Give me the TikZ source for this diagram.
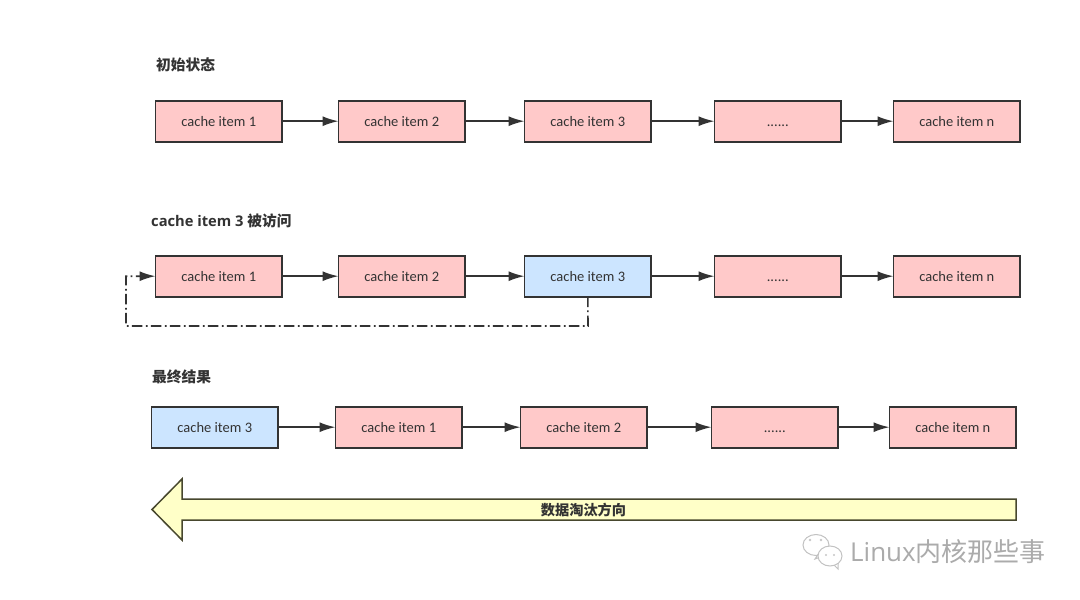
\documentclass[tikz,border=0pt]{standalone}
\usepackage{fontspec}
\setmainfont{Carlito}
\newfontfamily\cjk{Noto Sans CJK SC}
\newfontfamily\headfont{Open Sans}
\usetikzlibrary{arrows.meta}
\definecolor{pinkfill}{HTML}{FFC9C9}
\definecolor{bluefill}{HTML}{CCE5FF}
\definecolor{yellowfill}{HTML}{FFFFC8}
\definecolor{ink}{HTML}{333333}
\tikzset{
  x=1pt,y=-1pt,
  itembox/.style={draw=ink,line width=1.7pt,outer sep=0pt,minimum width=126.6pt,minimum height=41pt,inner sep=0pt,anchor=north west,font=\fontsize{14.5}{14.5}\selectfont,text=ink,text height=11pt,text depth=0pt},
  pinkbox/.style={itembox,fill=pinkfill},
  bluebox/.style={itembox,fill=bluefill},
  link/.style={draw=ink,line width=1.6pt,-{Latex[length=16pt,width=10pt]}},
  heading/.style={anchor=west,inner sep=0pt,text=ink,font=\headfont\bfseries\fontsize{14.7}{15}\selectfont},
  back/.style={link,dash pattern=on 10.5pt off 3.2pt on 1.8pt off 3.5pt},
}
\begin{document}
\begin{tikzpicture}
\useasboundingbox (0,0) rectangle (1080,600);
\fill[white] (0,0) rectangle (1080,600);

\node[heading] (h1) at (156,64.5) {\cjk\bfseries 初始状态};
\node[heading] (h2) at (151,221) {cache item 3 {\cjk\bfseries 被访问}};
\node[heading] (h3) at (152,376.5) {\cjk\bfseries 最终结果};

\node[pinkbox] (a1) at (155.5,100.7) {cache item 1};
\node[pinkbox] (a2) at (338.5,100.7) {cache item 2};
\node[pinkbox] (a3) at (524.5,100.7) {cache item 3};
\node[pinkbox] (a4) at (714.5,100.7) {......};
\node[pinkbox] (a5) at (893.5,100.7) {cache item n};
\draw[link] (a1) -- (a2);
\draw[link] (a2) -- (a3);
\draw[link] (a3) -- (a4);
\draw[link] (a4) -- (a5);

\node[pinkbox] (b1) at (155.5,255.7) {cache item 1};
\node[pinkbox] (b2) at (338.5,255.7) {cache item 2};
\node[bluebox] (b3) at (524.5,255.7) {cache item 3};
\node[pinkbox] (b4) at (714.5,255.7) {......};
\node[pinkbox] (b5) at (893.5,255.7) {cache item n};
\draw[link] (b1) -- (b2);
\draw[link] (b2) -- (b3);
\draw[link] (b3) -- (b4);
\draw[link] (b4) -- (b5);
\coordinate (c1) at (588,326);
\coordinate (c2) at (126,326);
\coordinate (c3) at (126,276.2);
\draw[back] (b3.south) -- (c1) -- (c2) -- (c3) -- (b1.west);

\node[bluebox] (d1) at (151.5,406.7) {cache item 3};
\node[pinkbox] (d2) at (335.5,406.7) {cache item 1};
\node[pinkbox] (d3) at (520.5,406.7) {cache item 2};
\node[pinkbox] (d4) at (711.5,406.7) {......};
\node[pinkbox] (d5) at (889.5,406.7) {cache item n};
\draw[link] (d1) -- (d2);
\draw[link] (d2) -- (d3);
\draw[link] (d3) -- (d4);
\draw[link] (d4) -- (d5);

\draw[draw=ink!90!yellow,line width=1.5pt,fill=yellowfill,line join=miter]
  (1016,499) -- (182,499) -- (182,479) -- (152,509.5) -- (182,540) -- (182,520) -- (1016,520) -- cycle;
\node[inner sep=0pt,text=ink,font=\cjk\bfseries\fontsize{14.2}{15}\selectfont] (dir) at (583.5,510) {数据淘汰方向};

% watermark
\begin{scope}[draw=black!24,line width=1pt,fill=white]
  \draw (816,545) ellipse [x radius=13pt,y radius=10.5pt];
  \draw (819,553) -- (815,559) -- (826,555);
  \draw[fill=white] (830,556) ellipse [x radius=12pt,y radius=10pt];
  \draw (834,565) -- (838,569) -- (838,563);
  \fill[black!22] (810,540) circle (1.3pt) (821,540) circle (1.3pt) (826,555) circle (1.1pt) (834,555) circle (1.1pt);
\end{scope}
\node[anchor=west,inner sep=0pt,text=black!33,font=\fontsize{26}{26}\selectfont\headfont] (wm) at (850,552) {Linux{\cjk 内核那些事}};
\end{tikzpicture}
\end{document}
